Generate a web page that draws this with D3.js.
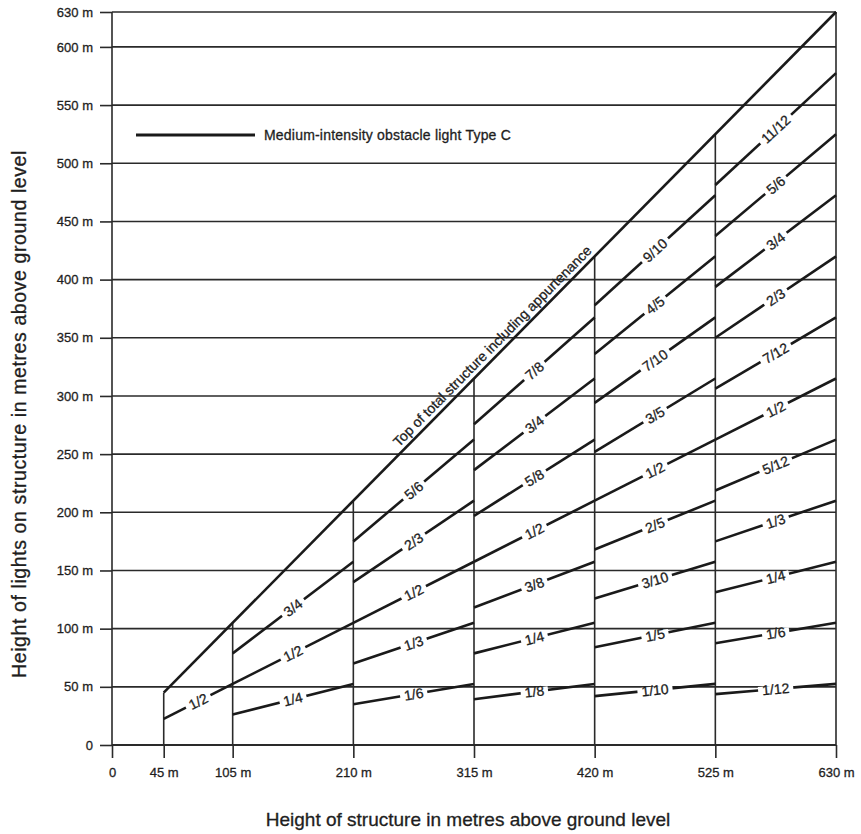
<!DOCTYPE html>
<html>
<head>
<meta charset="utf-8">
<script src="https://cdn.jsdelivr.net/npm/d3@7"></script>
<style>
  html, body { margin: 0; padding: 0; background: #fff; }
  svg { display: block; font-family: "Liberation Sans", Arial, Helvetica, sans-serif; }
  svg text { stroke: #1e1e1e; stroke-width: 0.3px; }
</style>
</head>
<body>
<svg id="chart" width="861" height="834"></svg>
<script>
// ---- data ----
const xTickValues = [0, 45, 105, 210, 315, 420, 525, 630];
const yTickValues = [0, 50, 100, 150, 200, 250, 300, 350, 400, 450, 500, 550, 600, 630];
const structureBreaks = [45, 105, 210, 315, 420, 525, 630];
// light positions (fraction of structure height) for each structure-height band
const band45to105  = ["1/2"];
const band105to210 = ["3/4", "1/2", "1/4"];
const band210to315 = ["5/6", "2/3", "1/2", "1/3", "1/6"];
const band315to420 = ["7/8", "3/4", "5/8", "1/2", "3/8", "1/4", "1/8"];
const band420to525 = ["9/10", "4/5", "7/10", "3/5", "1/2", "2/5", "3/10", "1/5", "1/10"];
const band525to630 = ["11/12", "5/6", "3/4", "2/3", "7/12", "1/2", "5/12", "1/3", "1/4", "1/6", "1/12"];
const bands = [band45to105, band105to210, band210to315, band315to420, band420to525, band525to630];
const topLabel = "Top of total structure including appurtenance";
const legendLabel = "Medium-intensity obstacle light Type C";
const xTitle = "Height of structure in metres above ground level";
const yTitle = "Height of lights on structure in metres above ground level";

// ---- scales ----
const svg = d3.select("#chart");
const x = d3.scaleLinear().domain([0, 630]).range([112, 836]);
const y = d3.scaleLinear().domain([0, 630]).range([745, 12]);
const ink = "#1a1a1a";
const textCol = "#1e1e1e";

// horizontal grid lines
svg.append("g").selectAll("line")
  .data(yTickValues)
  .join("line")
  .attr("x1", x(0)).attr("x2", x(630))
  .attr("y1", d => y(d)).attr("y2", d => y(d))
  .attr("stroke", "#2a2a2a").attr("stroke-width", d => d === 0 ? 2 : 1.6);

// y axis
const yAxis = svg.append("g")
  .attr("transform", `translate(${x(0)},0)`)
  .call(d3.axisLeft(y).tickValues(yTickValues).tickSize(12).tickPadding(7)
        .tickFormat(d => d === 0 ? "0" : d + " m"));
yAxis.select(".domain").remove();
yAxis.selectAll("line").attr("stroke", "#2a2a2a").attr("stroke-width", 1.6);
yAxis.selectAll("text").attr("font-size", 13).attr("fill", textCol)
  .attr("font-family", "'Liberation Sans', Arial, sans-serif");

// x axis ticks
const xAxis = svg.append("g")
  .attr("transform", `translate(0,${y(0)})`)
  .call(d3.axisBottom(x).tickValues(xTickValues).tickSize(13).tickPadding(10)
        .tickFormat(d => d === 0 ? "0" : d + " m"));
xAxis.select(".domain").remove();
xAxis.selectAll("line").attr("stroke", "#2a2a2a").attr("stroke-width", 1.6);
xAxis.selectAll("text").attr("font-size", 13).attr("fill", textCol)
  .attr("font-family", "'Liberation Sans', Arial, sans-serif");

// vertical lines: y axis and structure-height breaks up to the top line
svg.append("line")
  .attr("x1", x(0)).attr("x2", x(0)).attr("y1", y(0)).attr("y2", y(630))
  .attr("stroke", "#2a2a2a").attr("stroke-width", 1.6);
svg.append("g").selectAll("line")
  .data(structureBreaks)
  .join("line")
  .attr("x1", d => x(d)).attr("x2", d => x(d))
  .attr("y1", y(0)).attr("y2", d => y(d))
  .attr("stroke", "#2a2a2a").attr("stroke-width", 1.6);

// top of structure line
svg.append("line")
  .attr("x1", x(45)).attr("y1", y(45)).attr("x2", x(630)).attr("y2", y(630))
  .attr("stroke", ink).attr("stroke-width", 2.6);

function frac(s) { const p = s.split("/"); return +p[0] / +p[1]; }

// light lines
const segs = [];
bands.forEach((band, i) => {
  const a = structureBreaks[i], b = structureBreaks[i + 1];
  band.forEach(lbl => segs.push({ a, b, f: frac(lbl), lbl }));
});
const segG = svg.append("g");
segG.selectAll("line")
  .data(segs)
  .join("line")
  .attr("x1", d => x(d.a)).attr("y1", d => y(d.f * d.a))
  .attr("x2", d => x(d.b)).attr("y2", d => y(d.f * d.b))
  .attr("stroke", ink).attr("stroke-width", 2.6);

// labels on light lines
const lab = svg.append("g").selectAll("g")
  .data(segs)
  .join("g")
  .attr("transform", d => {
    const m = (d.a + d.b) / 2;
    const px = x(m), py = y(d.f * m);
    const ang = Math.atan2(y(d.f * d.b) - y(d.f * d.a), x(d.b) - x(d.a)) * 180 / Math.PI;
    return `translate(${px},${py}) rotate(${ang})`;
  });
lab.append("text")
  .attr("text-anchor", "middle").attr("dy", "0.36em")
  .attr("font-size", 14).attr("fill", textCol)
  .text(d => d.lbl);
lab.each(function() {
  const g = d3.select(this);
  const w = g.select("text").node().getComputedTextLength();
  g.insert("rect", "text")
    .attr("x", -w / 2 - 4).attr("y", -3.5).attr("width", w + 8).attr("height", 7)
    .attr("fill", "#fff");
});

// top label
{
  const m = 337;
  const ang = Math.atan2(y(630) - y(45), x(630) - x(45)) * 180 / Math.PI;
  svg.append("text")
    .attr("transform", `translate(${x(m)},${y(m)}) rotate(${ang})`)
    .attr("text-anchor", "middle").attr("dy", -5)
    .attr("font-size", 14).attr("fill", textCol)
    .text(topLabel);
}

// legend
svg.append("line").attr("x1", 136).attr("x2", 255).attr("y1", 135).attr("y2", 135)
  .attr("stroke", ink).attr("stroke-width", 3);
svg.append("text").attr("x", 264).attr("y", 135).attr("dy", "0.35em")
  .attr("font-size", 14).attr("fill", textCol).attr("letter-spacing", 0.2).text(legendLabel);

// axis titles
svg.append("text").attr("x", 468).attr("y", 826)
  .attr("text-anchor", "middle").attr("font-size", 19).attr("fill", textCol)
  .text(xTitle);
svg.append("text").attr("transform", "translate(26,414) rotate(-90)")
  .attr("text-anchor", "middle").attr("font-size", 19.5).attr("fill", textCol)
  .attr("letter-spacing", 0.6)
  .text(yTitle);
</script>
</body>
</html>
